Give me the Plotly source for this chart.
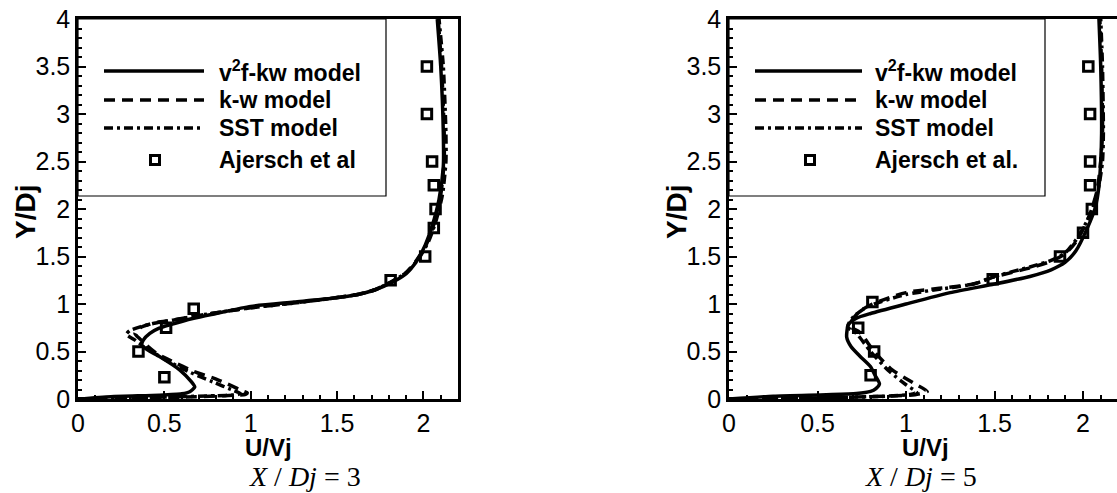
import plotly.graph_objects as go

# ---------------- data: X/Dj = 3 ----------------
exp3_u = [2.02, 2.02, 2.05, 2.06, 2.07, 2.06, 2.01, 1.81, 0.67, 0.51, 0.35, 0.50]
exp3_y = [3.50, 3.00, 2.50, 2.25, 2.00, 1.80, 1.50, 1.25, 0.95, 0.75, 0.50, 0.23]

v2f3_u = [0.00, 0.19, 0.47, 0.60, 0.647, 0.676, 0.657, 0.59, 0.474, 0.40, 0.37, 0.378, 0.416,
          0.47, 0.53, 0.67, 0.80, 1.00, 1.25, 1.47, 1.62, 1.72, 1.82, 1.90, 1.96, 2.01, 2.05,
          2.09, 2.115, 2.115, 2.10, 2.08]
v2f3_y = [0.00, 0.025, 0.04, 0.055, 0.077, 0.126, 0.18, 0.305, 0.445, 0.52, 0.57, 0.62, 0.69,
          0.745, 0.78, 0.85, 0.90, 0.975, 1.02, 1.06, 1.10, 1.15, 1.23, 1.32, 1.45, 1.62, 1.82,
          2.10, 2.45, 2.80, 3.50, 4.00]

kw3_u = [0.00, 0.30, 0.60, 0.85, 0.97, 0.98, 0.96, 0.80, 0.67, 0.53, 0.455, 0.40, 0.36, 0.33,
         0.36, 0.44, 0.55, 0.70, 1.00, 1.25, 1.47, 1.62, 1.72, 1.82, 1.90, 1.96, 2.02, 2.06,
         2.10, 2.12, 2.12, 2.105, 2.085]
kw3_y = [0.00, 0.01, 0.02, 0.035, 0.05, 0.065, 0.08, 0.21, 0.29, 0.41, 0.48, 0.56, 0.63, 0.69,
         0.75, 0.80, 0.83, 0.88, 0.96, 1.01, 1.06, 1.10, 1.15, 1.24, 1.33, 1.46, 1.64, 1.84,
         2.15, 2.50, 2.80, 3.50, 4.00]

sst3_u = [0.00, 0.50, 0.80, 0.92, 0.94, 0.90, 0.78, 0.65, 0.50, 0.40, 0.33, 0.28, 0.30, 0.36,
          0.45, 0.55, 0.70, 1.00, 1.25, 1.47, 1.62, 1.72, 1.82, 1.90, 1.97, 2.03, 2.07, 2.11,
          2.13, 2.13, 2.115, 2.09]
sst3_y = [0.00, 0.02, 0.035, 0.045, 0.06, 0.09, 0.18, 0.28, 0.42, 0.53, 0.62, 0.68, 0.72, 0.76,
          0.80, 0.83, 0.88, 0.96, 1.01, 1.06, 1.10, 1.15, 1.24, 1.33, 1.47, 1.66, 1.86, 2.15,
          2.50, 2.80, 3.50, 4.00]

# ---------------- data: X/Dj = 5 ----------------
exp5_u = [2.03, 2.04, 2.04, 2.04, 2.05, 2.00, 1.87, 1.49, 0.81, 0.73, 0.82, 0.80]
exp5_y = [3.50, 3.00, 2.50, 2.25, 2.00, 1.75, 1.50, 1.26, 1.02, 0.75, 0.50, 0.25]

v2f5_u = [0.00, 0.25, 0.55, 0.72, 0.80, 0.83, 0.85, 0.825, 0.80, 0.74, 0.69, 0.665, 0.674,
          0.72, 0.80, 1.00, 1.25, 1.50, 1.70, 1.82, 1.90, 1.96, 2.02, 2.07, 2.09, 2.10, 2.105,
          2.10, 2.09]
v2f5_y = [0.00, 0.03, 0.045, 0.057, 0.08, 0.11, 0.16, 0.25, 0.34, 0.45, 0.55, 0.65, 0.78,
          0.85, 0.90, 1.00, 1.12, 1.21, 1.29, 1.36, 1.44, 1.56, 1.78, 2.02, 2.24, 2.50, 2.80,
          3.50, 4.00]

kw5_u = [0.00, 0.40, 0.80, 1.05, 1.12, 1.04, 0.92, 0.82, 0.74, 0.68, 0.73, 0.81, 1.00, 1.38,
         1.49, 1.70, 1.82, 1.90, 1.97, 2.04, 2.08, 2.10, 2.11, 2.105, 2.095]
kw5_y = [0.00, 0.01, 0.025, 0.045, 0.08, 0.17, 0.31, 0.50, 0.70, 0.77, 0.91, 1.00, 1.12, 1.21,
         1.28, 1.38, 1.45, 1.53, 1.68, 1.95, 2.20, 2.50, 2.80, 3.50, 4.00]

sst5_u = [0.00, 0.50, 0.90, 1.03, 1.06, 1.00, 0.90, 0.80, 0.72, 0.67, 0.70, 0.78, 1.00, 1.38,
          1.50, 1.70, 1.82, 1.90, 1.97, 2.05, 2.09, 2.11, 2.115, 2.11, 2.10]
sst5_y = [0.00, 0.01, 0.03, 0.05, 0.07, 0.15, 0.30, 0.50, 0.69, 0.76, 0.86, 0.97, 1.10, 1.21,
          1.29, 1.39, 1.46, 1.54, 1.70, 1.98, 2.25, 2.50, 2.80, 3.50, 4.00]

legend3 = ["v<sup>2</sup>f-kw model", "k-w model", "SST model", "Ajersch et al"]
legend5 = ["v<sup>2</sup>f-kw model", "k-w model", "SST model", "Ajersch et al."]
panel_titles = ["<i>X</i> / <i>Dj</i> = 3", "<i>X</i> / <i>Dj</i> = 5"]
x_title = "<b>U/Vj</b>"
y_title = "<b>Y/Dj</b>"

W, H = 1117, 493
SANS = "Liberation Sans, Arial, Helvetica, sans-serif"
SERIF = "Liberation Serif, Times New Roman, serif"
LW = 3.5
DASH = "11px,7px"
DASHDOT = "9px,4px,3px,4px"

fig = go.Figure()

panels = [
    dict(xa="x", ya="y", exp=(exp3_u, exp3_y), v2f=(v2f3_u, v2f3_y), kw=(kw3_u, kw3_y),
         sst=(sst3_u, sst3_y)),
    dict(xa="x2", ya="y2", exp=(exp5_u, exp5_y), v2f=(v2f5_u, v2f5_y), kw=(kw5_u, kw5_y),
         sst=(sst5_u, sst5_y)),
]

for p in panels:
    for key, dash in (("sst", DASHDOT), ("kw", DASH), ("v2f", "solid")):
        u, y = p[key]
        fig.add_trace(go.Scatter(x=u, y=y, xaxis=p["xa"], yaxis=p["ya"], mode="lines",
                                 line=dict(color="black", width=LW, dash=dash,
                                           shape="spline", smoothing=0.6),
                                 showlegend=False, hoverinfo="skip"))
    u, y = p["exp"]
    fig.add_trace(go.Scatter(x=u, y=y, xaxis=p["xa"], yaxis=p["ya"], mode="markers",
                             marker=dict(symbol="square-open", size=9.5, color="black",
                                         line=dict(width=3, color="black")),
                             showlegend=False, hoverinfo="skip"))

# pixel geometry of the two plot areas
ax_left = (78, 458)
ax_right = (729, 1117)
y_top, y_bot = 19, 399

def px2paper_x(px):
    return px / W

def px2paper_y(py):
    return 1 - py / H

axis_common = dict(showgrid=False, zeroline=False, showline=True, linecolor="black",
                   linewidth=2.5, ticks="inside", ticklen=8, tickwidth=2, tickcolor="black",
                   tickfont=dict(family=SANS, size=25, color="black"),
                   minor=dict(ticks="inside", ticklen=4, tickwidth=1.5, tickcolor="black",
                              dtick=0.1, showgrid=False),
                   automargin=False, fixedrange=True)

xt = dict(tickmode="array", tickvals=[0, 0.5, 1, 1.5, 2], ticktext=["0", "0.5", "1", "1.5", "2"])
yt = dict(tickmode="array", tickvals=[0, 0.5, 1, 1.5, 2, 2.5, 3, 3.5, 4],
          ticktext=["0", "0.5", "1", "1.5", "2", "2.5", "3", "3.5", "4"])

fig.update_layout(
    width=W, height=H, margin=dict(l=0, r=0, t=0, b=0),
    paper_bgcolor="white", plot_bgcolor="white", showlegend=False,
    xaxis=dict(domain=[px2paper_x(ax_left[0]), px2paper_x(ax_left[1])], range=[0, 2.2],
               mirror=True, anchor="y", **xt, **axis_common),
    yaxis=dict(domain=[px2paper_y(y_bot), px2paper_y(y_top)], range=[0, 4],
               mirror=True, anchor="x", **yt, **axis_common),
    xaxis2=dict(domain=[px2paper_x(ax_right[0]), 1.0], range=[0, 2.192],
                mirror=True, anchor="y2", **xt, **axis_common),
    yaxis2=dict(domain=[px2paper_y(y_bot), px2paper_y(y_top)], range=[0, 4],
                mirror=False, anchor="x2", **yt, **axis_common),
)

shapes = []
annotations = []

legend_specs = [
    dict(xr="x domain", yr="y domain", ax=ax_left, box_r=386, line_x=(104, 204), sq_x=155,
         text_x=217, labels=legend3),
    dict(xr="x2 domain", yr="y2 domain", ax=ax_right, box_r=1045, line_x=(755, 862), sq_x=810,
         text_x=873, labels=legend5),
]
rows = [71, 100, 128, 160]
styles = ["solid", DASH, DASHDOT]

for spec in legend_specs:
    a0, a1 = spec["ax"]
    fx = lambda px: (px - a0) / (a1 - a0)
    fy = lambda py: (y_bot - py) / (y_bot - y_top)
    shapes.append(dict(type="rect", xref=spec["xr"], yref=spec["yr"], x0=0, x1=fx(spec["box_r"]),
                       y0=fy(196), y1=1, line=dict(color="black", width=1.2),
                       fillcolor="white", layer="below"))
    for r, st in zip(rows[:3], styles):
        shapes.append(dict(type="line", xref=spec["xr"], yref=spec["yr"],
                           x0=fx(spec["line_x"][0]), x1=fx(spec["line_x"][1]),
                           y0=fy(r), y1=fy(r), line=dict(color="black", width=LW, dash=st)))
    sx, sy = spec["sq_x"], rows[3]
    shapes.append(dict(type="rect", xref=spec["xr"], yref=spec["yr"],
                       x0=fx(sx - 4.5), x1=fx(sx + 4.5), y0=fy(sy + 4.5), y1=fy(sy - 4.5),
                       line=dict(color="black", width=3)))
    for r, lab in zip(rows, spec["labels"]):
        annotations.append(dict(xref=spec["xr"], yref=spec["yr"], x=fx(spec["text_x"]), y=fy(r),
                                xanchor="left", yanchor="middle", showarrow=False, text=f"<b>{lab}</b>",
                                font=dict(family=SANS, size=23, color="black")))

# axis titles and panel captions
for cx, ycx, cap_x, cap in ((268, 25, 305, panel_titles[0]), (925, 676, 921, panel_titles[1])):
    annotations.append(dict(xref="paper", yref="paper", x=px2paper_x(cx), y=px2paper_y(447),
                            xanchor="center", yanchor="middle", showarrow=False, text=x_title,
                            font=dict(family=SANS, size=24, color="black")))
    annotations.append(dict(xref="paper", yref="paper", x=px2paper_x(ycx), y=px2paper_y(212),
                            xanchor="center", yanchor="middle", showarrow=False, text=y_title,
                            textangle=-90, font=dict(family=SANS, size=28, color="black")))
    annotations.append(dict(xref="paper", yref="paper", x=px2paper_x(cap_x), y=px2paper_y(476),
                            xanchor="center", yanchor="middle", showarrow=False, text=cap,
                            font=dict(family=SERIF, size=28, color="black")))

fig.update_layout(shapes=shapes, annotations=annotations)
fig.write_html("out.html")
